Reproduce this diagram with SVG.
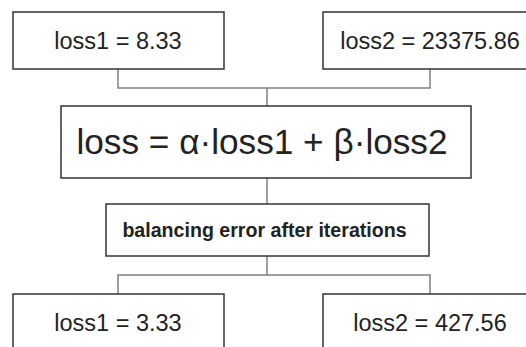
<svg xmlns="http://www.w3.org/2000/svg" width="526" height="347" viewBox="0 0 526 347">
<style>
.box{fill:#fff;stroke:#333;stroke-width:1.5}
.conn{fill:none;stroke:#808080;stroke-width:1.5}
text{font-family:"Liberation Sans",Arial,sans-serif;fill:#222;text-anchor:middle}
.t{font-size:23.5px}
.big{font-size:35.2px}
.b{font-size:19.6px;font-weight:bold}
</style>
<rect width="526" height="347" fill="#fff"/>
<g id="connectors">
<polyline class="conn" points="118,69 118,88 430,88 430,69"/>
<line class="conn" x1="267" y1="88" x2="267" y2="106"/>
<line class="conn" x1="267" y1="178" x2="267" y2="204"/>
<polyline class="conn" points="118,294 118,275 430,275 430,294"/>
<line class="conn" x1="267" y1="256" x2="267" y2="275"/>
</g>
<g id="n1"><rect class="box" x="13" y="12" width="211" height="57"/><text class="t" x="118" y="49">loss1 = 8.33</text></g>
<g id="n2"><rect class="box" x="323" y="12" width="214" height="57"/><text class="t" x="430" y="49">loss2 = 23375.86</text></g>
<g id="n3"><rect class="box" x="61" y="106" width="410" height="72"/><text class="big" x="262" y="154">loss = α·loss1 + β·loss2</text></g>
<g id="n4"><rect class="box" x="106" y="204" width="323" height="52"/><text class="b" x="264.5" y="237">balancing error after iterations</text></g>
<g id="n5"><rect class="box" x="13" y="294" width="211" height="70"/><text class="t" x="118" y="331">loss1 = 3.33</text></g>
<g id="n6"><rect class="box" x="323" y="294" width="214" height="70"/><text class="t" x="430" y="331">loss2 = 427.56</text></g>
</svg>
